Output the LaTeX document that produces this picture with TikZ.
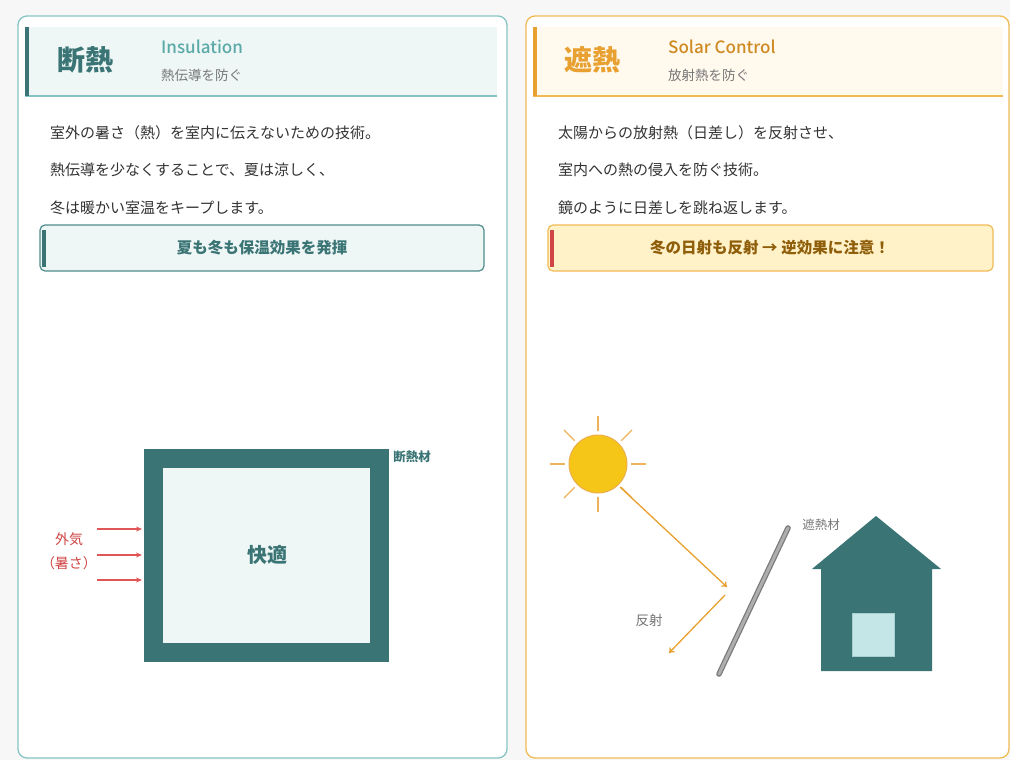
\documentclass[tikz,border=0pt]{standalone}
\usepackage{fontspec}
\setmainfont{Noto Sans CJK JP}
\newfontfamily\moyen{Noto Sans CJK JP Medium}
\usetikzlibrary{arrows.meta}

\newcommand\taille[1]{\fontsize{#1}{#1}\selectfont}

\definecolor{fond}{HTML}{F7F7F7}
\definecolor{sarcelle}{HTML}{3A7474}
\definecolor{sarcelleclair}{HTML}{5BAAA8}
\definecolor{bordG}{HTML}{86C4C4}
\definecolor{paleG}{HTML}{EEF6F6}
\definecolor{cadreG}{HTML}{4F8C8C}
\definecolor{orange}{HTML}{E8A030}
\definecolor{orangefonce}{HTML}{CF8A22}
\definecolor{bordD}{HTML}{F0BA55}
\definecolor{paleD}{HTML}{FFF9EE}
\definecolor{jaune}{HTML}{FFF1C8}
\definecolor{brun}{HTML}{8F5E0A}
\definecolor{rouge}{HTML}{D04545}
\definecolor{rougefleche}{HTML}{E05555}
\definecolor{soleil}{HTML}{F5C518}
\definecolor{grisTexte}{HTML}{333333}
\definecolor{grisPetit}{HTML}{777777}
\definecolor{grisFonce}{HTML}{7A7A7A}
\definecolor{grisClair}{HTML}{AEAEAE}
\definecolor{vitre}{HTML}{C4E6E6}

\begin{document}
\begin{tikzpicture}[x=1pt,y=-1pt]
\tikzstyle{texte} = [anchor=west,inner sep=0pt,text=grisTexte,font=\taille{15}] %corps du texte
\tikzstyle{titre} = [inner sep=0pt,font=\taille{28}\bfseries]
\tikzstyle{anglais} = [anchor=west,inner sep=0pt,font=\taille{17}\moyen]
\tikzstyle{petit} = [anchor=west,inner sep=0pt,text=grisPetit,font=\taille{13.5}]
\tikzstyle{alerte} = [inner sep=0pt,font=\taille{15.5}\bfseries]
\tikzstyle{etiquette} = [inner sep=0pt,font=\taille{12.5}]
\tikzstyle{flecheR} = [draw=rougefleche,line width=1.3pt,-{Stealth[length=6pt,width=5pt]}]
\tikzstyle{flecheO} = [draw=orange,line width=1.3pt,-{To[length=5pt,width=7pt]}]

%fond et panneaux
\fill[fond] (0,0) rectangle (1010,760);
\draw[bordG,fill=white,line width=1.3pt,rounded corners=9pt] (18,16) rectangle (507,758);
\draw[bordD,fill=white,line width=1.3pt,rounded corners=9pt] (526,16) rectangle (1009,758);

%en-têtes
\fill[paleG] (25,27) rectangle (497,96);
\draw[bordG,line width=1.3pt] (25,96)--(497,96);
\fill[sarcelle] (25,27) rectangle (29,96);
\fill[paleD] (533,27) rectangle (1003,96);
\draw[bordD,line width=1.3pt] (533,96)--(1003,96);
\fill[orange] (533,27) rectangle (537,96);

\node[titre,text=sarcelle] (titreG) at (85,60) {断熱};
\node[anglais,text=sarcelleclair] (anglaisG) at (161,47) {Insulation};
\node[petit] (resumeG) at (161,75) {熱伝導を防ぐ};
\node[titre,text=orange] (titreD) at (592,60) {遮熱};
\node[anglais,text=orangefonce] (anglaisD) at (668,47) {Solar Control};
\node[petit] (resumeD) at (668,75) {放射熱を防ぐ};

%explications
\node[texte] (g1) at (50,133) {室外の暑さ（熱）を室内に伝えないための技術。};
\node[texte] (g2) at (50,170) {熱伝導を少なくすることで、夏は涼しく、};
\node[texte] (g3) at (50,208) {冬は暖かい室温をキープします。};
\node[texte] (d1) at (558,133) {太陽からの放射熱（日差し）を反射させ、};
\node[texte] (d2) at (558,170) {室内への熱の侵入を防ぐ技術。};
\node[texte] (d3) at (558,208) {鏡のように日差しを跳ね返します。};

%encadrés
\draw[cadreG,fill=paleG,line width=1.2pt,rounded corners=5pt] (40,225) rectangle (484,271);
\fill[sarcelle] (42,230) rectangle (46,267);
\node[alerte,text=sarcelle] (effetG) at (262,248) {夏も冬も保温効果を発揮};
\draw[bordD,fill=jaune,line width=1.2pt,rounded corners=5pt] (548,225) rectangle (993,271);
\fill[rouge] (550,230) rectangle (554,267);
\node[alerte,text=brun] (effetD) at (770,248) {冬の日射も反射 → 逆効果に注意！};

%mur isolant
\fill[sarcelle] (144,449) rectangle (389,662);
\fill[paleG] (163,468) rectangle (370,643);
\node[inner sep=0pt,text=sarcelle,font=\taille{20}\bfseries] (confort) at (267,555) {快適};
\node[etiquette,text=sarcelle,font=\taille{12.5}\bfseries] (isolant) at (412,457) {断熱材};

%air extérieur
\coordinate (a1) at (97,529); \coordinate (b1) at (142,529);
\coordinate (a2) at (97,555); \coordinate (b2) at (142,555);
\coordinate (a3) at (97,580); \coordinate (b3) at (142,580);
\draw[flecheR] (a1)--(b1);
\draw[flecheR] (a2)--(b2);
\draw[flecheR] (a3)--(b3);
\node[inner sep=0pt,text=rouge,font=\taille{14}] (exterieur) at (69,539) {外気};
\node[inner sep=0pt,text=rouge,font=\taille{14}] (chaleur) at (69,563) {（暑さ）};

%soleil
\coordinate (S) at (598,464);
\foreach \a in {0,45,...,315}
  \draw[orange!80,line width=1.1pt,shift={(S)}] (\a:33)--(\a:48);
\draw[orange!85,fill=soleil,line width=1pt] (S) circle (29);

%rayons
\coordinate (depart) at (620,487);
\coordinate (impact) at (727,587);
\coordinate (retour) at (725,595);
\coordinate (fin) at (669,653);
\draw[flecheO] (depart)--(impact);
\draw[flecheO] (retour)--(fin);
\node[etiquette,text=grisPetit,font=\taille{13.5}] (reflet) at (649,620) {反射};

%écran
\coordinate (M1) at (788,528);
\coordinate (M2) at (719,674);
\draw[grisFonce,line width=5.5pt,line cap=round] (M1)--(M2);
\draw[grisClair,line width=3pt,line cap=round] (M1)--(M2);
\node[etiquette,text=grisPetit] (ecran) at (821,525) {遮熱材};

%maison
\fill[sarcelle] (876,516)--(941,569)--(932,569)--(932,671)--(821,671)--(821,569)--(812,569)--cycle;
\draw[vitre!80!sarcelle,fill=vitre,line width=0.8pt] (852,613) rectangle (894,656);
\end{tikzpicture}
\end{document}
